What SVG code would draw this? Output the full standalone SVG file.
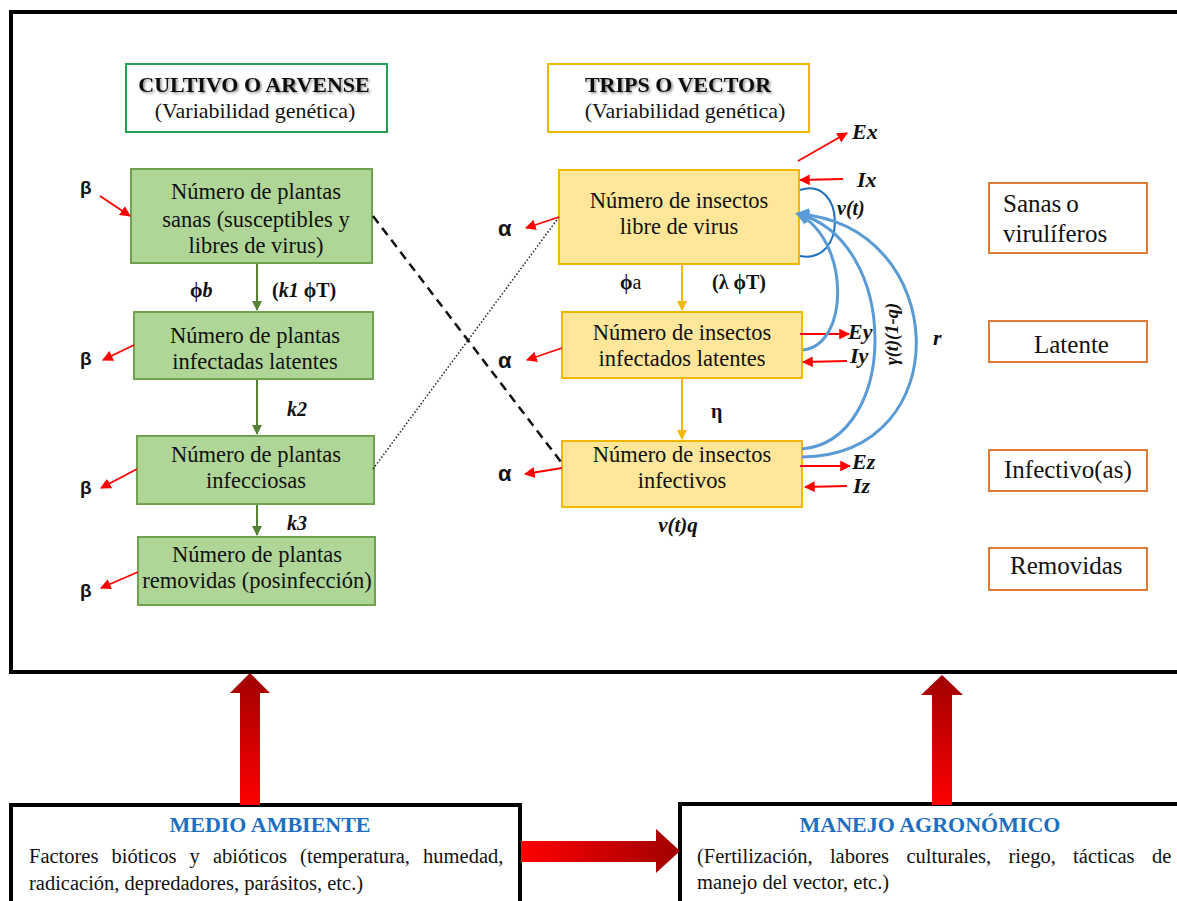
<svg xmlns="http://www.w3.org/2000/svg" width="1177" height="901" viewBox="0 0 1177 901">
<defs>
<style>
.serif{font-family:'Liberation Serif','Times New Roman',serif;fill:#111}
.sans{font-family:'Liberation Sans',Arial,sans-serif;font-weight:bold;fill:#111}
.box{font-size:22.5px;text-anchor:middle}
.hdr{font-size:22px;text-anchor:middle}
.leg{font-size:25px}
.bt{font-size:20.5px}
.btitle{font-size:22px;font-weight:bold;text-anchor:middle;fill:#1e6fc0}
.green{fill:#afd597;stroke:#70a350;stroke-width:2}
.yellow{fill:#ffe699;stroke:#f2b800;stroke-width:2}
.legend{fill:#fff;stroke:#e07b39;stroke-width:2}
.lbl{font-size:20px;font-weight:bold}
.it{font-style:italic;font-weight:bold}
.red{stroke:#ff0000;stroke-width:1.8;fill:none}
.frame{fill:none;stroke:#000;stroke-width:4}
</style>
<marker id="mr" viewBox="0 0 10 10" refX="9" refY="5" markerWidth="6" markerHeight="6" orient="auto"><path d="M0,0 L10,5 L0,10 z" fill="#ff0000"/></marker>
<marker id="mg" viewBox="0 0 10 10" refX="9" refY="5" markerWidth="5" markerHeight="5" orient="auto"><path d="M0,0 L10,5 L0,10 z" fill="#538135"/></marker>
<marker id="my" viewBox="0 0 10 10" refX="9" refY="5" markerWidth="5" markerHeight="5" orient="auto"><path d="M0,0 L10,5 L0,10 z" fill="#f2b800"/></marker>
<marker id="mb" viewBox="0 0 10 10" refX="8" refY="5" markerWidth="4.5" markerHeight="4.5" orient="auto"><path d="M0,0 L10,5 L0,10 z" fill="#5b9bd5"/></marker>
<linearGradient id="gv" x1="0" y1="1" x2="0" y2="0"><stop offset="0" stop-color="#ff0000"/><stop offset="1" stop-color="#a00000"/></linearGradient>
<linearGradient id="gh" x1="0" y1="0" x2="1" y2="0"><stop offset="0" stop-color="#ff0000"/><stop offset="1" stop-color="#a00000"/></linearGradient>
<filter id="sh" x="-5%" y="-20%" width="110%" height="150%"><feDropShadow dx="1.5" dy="1.5" stdDeviation="1.2" flood-color="#000" flood-opacity="0.45"/></filter>
</defs>
<rect width="1177" height="901" fill="#fff"/>

<rect class="frame" x="11" y="12" width="1180" height="660"/>

<g id="hdr-cultivo">
<rect x="126" y="64" width="261" height="68" fill="#fff" stroke="#21a052" stroke-width="2"/>
<text class="serif hdr" x="254" y="92" font-weight="bold" filter="url(#sh)">CULTIVO O ARVENSE</text>
<text class="serif hdr" x="255" y="118">(Variabilidad<tspan dx="5">genética)</tspan></text>
</g>
<g id="hdr-trips">
<rect x="548" y="64" width="261" height="68" fill="#fff" stroke="#f2b800" stroke-width="2"/>
<text class="serif hdr" x="678" y="92" font-weight="bold" filter="url(#sh)">TRIPS O VECTOR</text>
<text class="serif hdr" x="685" y="118">(Variabilidad<tspan dx="5">genética)</tspan></text>
</g>

<g id="plant-sanas">
<rect class="green" x="131" y="169" width="241" height="94"/>
<text class="serif box" x="256" y="199">Número de plantas</text>
<text class="serif box" x="256" y="227">sanas (susceptibles y</text>
<text class="serif box" x="256" y="253">libres de virus)</text>
</g>
<g id="plant-latentes">
<rect class="green" x="134" y="312" width="239" height="67"/>
<text class="serif box" x="255" y="343">Número de plantas</text>
<text class="serif box" x="255" y="369">infectadas latentes</text>
</g>
<g id="plant-infecciosas">
<rect class="green" x="137" y="436" width="237" height="68"/>
<text class="serif box" x="256" y="462">Número de plantas</text>
<text class="serif box" x="256" y="488">infecciosas</text>
</g>
<g id="plant-removidas">
<rect class="green" x="138" y="537" width="237" height="68"/>
<text class="serif box" x="257" y="562">Número de plantas</text>
<text class="serif box" x="257" y="588">removidas (posinfección)</text>
</g>

<g id="insect-libre">
<rect class="yellow" x="559" y="170" width="240" height="94"/>
<text class="serif box" x="679" y="208">Número de insectos</text>
<text class="serif box" x="679" y="234">libre de virus</text>
</g>
<g id="insect-latentes">
<rect class="yellow" x="562" y="312" width="240" height="66"/>
<text class="serif box" x="682" y="340">Número de insectos</text>
<text class="serif box" x="682" y="366">infectados latentes</text>
</g>
<g id="insect-infectivos">
<rect class="yellow" x="562" y="441" width="240" height="66"/>
<text class="serif box" x="682" y="462">Número de insectos</text>
<text class="serif box" x="682" y="488">infectivos</text>
</g>

<g id="leg-sanas">
<rect class="legend" x="989" y="183" width="158" height="70"/>
<text class="serif leg" x="1003" y="212">Sanas<tspan dx="5">o</tspan></text>
<text class="serif leg" x="1003" y="242">virulíferos</text>
</g>
<g id="leg-latente">
<rect class="legend" x="989" y="321" width="158" height="41"/>
<text class="serif leg" x="1034" y="353">Latente</text>
</g>
<g id="leg-infectivo">
<rect class="legend" x="989" y="450" width="158" height="41"/>
<text class="serif leg" x="1004" y="478">Infectivo(as)</text>
</g>
<g id="leg-removidas">
<rect class="legend" x="989" y="548" width="158" height="42"/>
<text class="serif leg" x="1010" y="574">Removidas</text>
</g>

<g id="medio-ambiente">
<rect x="11" y="805" width="509" height="110" fill="#fff" stroke="#000" stroke-width="4"/>
<text class="serif btitle" x="270" y="832">MEDIO AMBIENTE</text>
<text class="serif bt" x="29" y="863" style="word-spacing:8px">Factores bióticos y abióticos (temperatura, humedad,</text>
<text class="serif bt" x="29" y="890">radicación, depredadores, parásitos, etc.)</text>
</g>
<g id="manejo">
<rect x="680" y="804" width="520" height="110" fill="#fff" stroke="#000" stroke-width="4"/>
<text class="serif btitle" x="930" y="832">MANEJO AGRONÓMICO</text>
<text class="serif bt" x="697" y="863" style="word-spacing:12.2px">(Fertilización, labores culturales, riego, tácticas de</text>
<text class="serif bt" x="697" y="889">manejo del vector, etc.)</text>
</g>

<g id="connectors">
<line x1="257" y1="264" x2="257" y2="310" stroke="#538135" stroke-width="2" marker-end="url(#mg)"/>
<line x1="257" y1="380" x2="257" y2="434" stroke="#538135" stroke-width="2" marker-end="url(#mg)"/>
<line x1="257" y1="505" x2="257" y2="535" stroke="#538135" stroke-width="2" marker-end="url(#mg)"/>
<line x1="682" y1="265" x2="682" y2="310" stroke="#f2b800" stroke-width="2" marker-end="url(#my)"/>
<line x1="682" y1="379" x2="682" y2="439" stroke="#f2b800" stroke-width="2" marker-end="url(#my)"/>
<line x1="373" y1="469" x2="559" y2="217" stroke="#222" stroke-width="1.5" stroke-dasharray="1.5,2"/>
<line x1="373" y1="216" x2="561" y2="462" stroke="#111" stroke-width="2.5" stroke-dasharray="9,6"/>
<line class="red" x1="100" y1="196" x2="130" y2="216" marker-end="url(#mr)"/>
<line class="red" x1="134" y1="345" x2="103" y2="360" marker-end="url(#mr)"/>
<line class="red" x1="137" y1="469" x2="101" y2="488" marker-end="url(#mr)"/>
<line class="red" x1="138" y1="572" x2="101" y2="588" marker-end="url(#mr)"/>
<line class="red" x1="559" y1="217" x2="526" y2="228" marker-end="url(#mr)"/>
<line class="red" x1="562" y1="348" x2="527" y2="360" marker-end="url(#mr)"/>
<line class="red" x1="562" y1="468" x2="525" y2="474" marker-end="url(#mr)"/>
<line class="red" x1="798" y1="161" x2="847" y2="133" marker-end="url(#mr)"/>
<line class="red" x1="843" y1="179" x2="800" y2="180" marker-end="url(#mr)"/>
<line class="red" x1="800" y1="334" x2="849" y2="334" marker-end="url(#mr)"/>
<line class="red" x1="847" y1="361" x2="803" y2="362" marker-end="url(#mr)"/>
<line class="red" x1="800" y1="466" x2="850" y2="466" marker-end="url(#mr)"/>
<line class="red" x1="847" y1="486" x2="805" y2="487" marker-end="url(#mr)"/>
<path d="M800,190 C845,175 848,265 800,256" fill="none" stroke="#1e6fc0" stroke-width="2"/>
<path d="M803,350 C850,345 850,240 798,214" fill="none" stroke="#5b9bd5" stroke-width="3" marker-end="url(#mb)"/>
<path d="M802,449 C900,440 900,240 798,214" fill="none" stroke="#5b9bd5" stroke-width="3" marker-end="url(#mb)"/>
<path d="M802,457 C960,455 950,225 798,214" fill="none" stroke="#5b9bd5" stroke-width="3" marker-end="url(#mb)"/>
<path d="M240,805 L240,693 L230,693 L250,673 L270,693 L260,693 L260,805 Z" fill="url(#gv)"/>
<path d="M932,805 L932,695 L921,695 L942,675 L963,695 L952,695 L952,805 Z" fill="url(#gv)"/>
<path d="M521,841 L656,841 L656,829 L680,851 L656,873 L656,862 L521,862 Z" fill="url(#gh)"/>
</g>

<g id="labels">
<text class="serif lbl" x="190" y="297">ϕ<tspan font-style="italic">b</tspan></text>
<text class="serif lbl" x="272" y="297">(<tspan font-style="italic">k1</tspan> ϕT)</text>
<text class="serif lbl it" x="287" y="416">k2</text>
<text class="serif lbl it" x="287" y="530">k3</text>
<text class="serif lbl" x="620" y="289">ϕ<tspan font-weight="normal">a</tspan></text>
<text class="serif lbl" x="712" y="289">(λ ϕT)</text>
<text class="serif lbl" x="711" y="418">η</text>
<text class="serif it" x="678" y="532" font-size="21" text-anchor="middle">v(t)q</text>
<text class="sans" x="80" y="194" font-size="19">β</text>
<text class="sans" x="80" y="365" font-size="19">β</text>
<text class="sans" x="80" y="494" font-size="19">β</text>
<text class="sans" x="80" y="597" font-size="19">β</text>
<text class="sans" x="498" y="236" font-size="22">α</text>
<text class="sans" x="498" y="368" font-size="22">α</text>
<text class="sans" x="498" y="481" font-size="22">α</text>
<text class="serif it" x="852" y="139" font-size="22">Ex</text>
<text class="serif it" x="857" y="187" font-size="22">Ix</text>
<text class="serif it" x="848" y="339" font-size="22">Ey</text>
<text class="serif it" x="850" y="363" font-size="22">Iy</text>
<text class="serif it" x="852" y="469" font-size="22">Ez</text>
<text class="serif it" x="853" y="493" font-size="22">Iz</text>
<text class="serif it" x="837" y="215" font-size="20">v(t)</text>
<text class="serif it" x="933" y="345" font-size="22">r</text>
<text class="serif it" font-size="18.5" text-anchor="middle" transform="translate(898,334) rotate(-90)">γ(t)(1-q)</text>
</g>
</svg>
